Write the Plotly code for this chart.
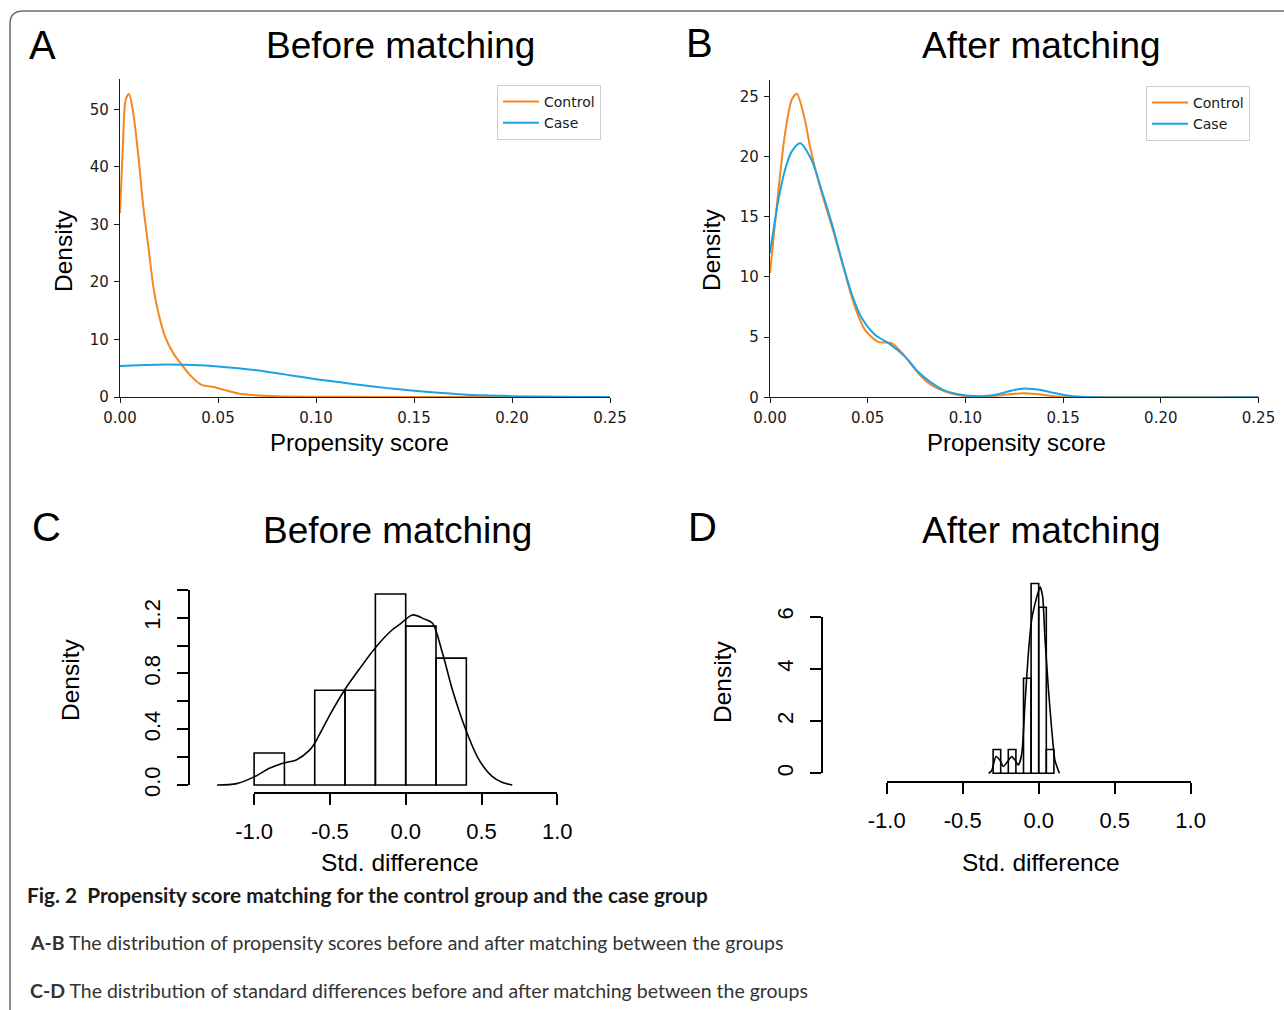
import plotly.graph_objects as go

# ---------------- data ----------------
# Panel A: propensity score densities before matching
a_ctrl_x = [0.0, 0.0015, 0.0029, 0.0046, 0.0068, 0.0094, 0.0119, 0.0145, 0.017, 0.0196, 0.023, 0.0272,
            0.0315, 0.0366, 0.0417, 0.0485, 0.0536, 0.0604, 0.0689, 0.08, 0.10, 0.13, 0.17, 0.25]
a_ctrl_y = [32.0, 44.0, 51.7, 52.7, 49.3, 41.8, 33.1, 26.1, 19.2, 14.6, 10.5, 7.6,
            5.6, 3.5, 2.1, 1.7, 1.2, 0.6, 0.3, 0.12, 0.05, 0.02, 0.01, 0.0]
a_case_x = [0.0, 0.0125, 0.025, 0.0375, 0.05, 0.0625, 0.075, 0.0875, 0.1, 0.1125, 0.125, 0.1375,
            0.15, 0.1625, 0.175, 0.1875, 0.2, 0.225, 0.25]
a_case_y = [5.4, 5.55, 5.65, 5.55, 5.3, 4.9, 4.4, 3.75, 3.1, 2.55, 2.0, 1.5,
            1.1, 0.75, 0.45, 0.28, 0.15, 0.05, 0.01]

# Panel B: propensity score densities after matching
b_ctrl_x = [0.0, 0.0043, 0.0077, 0.0111, 0.0137, 0.0179, 0.0205, 0.0247, 0.029, 0.0333,
            0.0384, 0.0435, 0.0486, 0.0554, 0.0623, 0.069, 0.0759, 0.0827, 0.0896, 0.0964,
            0.103, 0.11, 0.117, 0.124, 0.13, 0.136, 0.142, 0.15, 0.16, 0.25]
b_ctrl_y = [10.3, 17.2, 21.9, 24.7, 25.2, 23.0, 20.8, 18.0, 15.6, 13.3,
            10.3, 7.5, 5.6, 4.6, 4.5, 3.4, 2.0, 1.0, 0.47, 0.19,
            0.05, 0.06, 0.15, 0.28, 0.33, 0.27, 0.15, 0.03, 0.0, 0.0]
b_case_x = [0.0, 0.0043, 0.0077, 0.0111, 0.0154, 0.0213, 0.0264, 0.0316, 0.0367, 0.0418,
            0.0469, 0.0537, 0.0606, 0.069, 0.0759, 0.0827, 0.0896, 0.0964, 0.104, 0.113,
            0.12, 0.126, 0.132, 0.138, 0.145, 0.152, 0.16, 0.166, 0.25]
b_case_y = [12.0, 16.4, 18.9, 20.4, 21.1, 19.7, 17.2, 14.45, 11.4, 8.6,
            6.6, 5.2, 4.5, 3.4, 2.1, 1.2, 0.55, 0.25, 0.1, 0.15,
            0.4, 0.65, 0.72, 0.62, 0.38, 0.15, 0.04, 0.0, 0.0]

# Panel C: standardized differences before matching (histogram + density)
c_bin_left = [-1.0, -0.8, -0.6, -0.4, -0.2, 0.0, 0.2]
c_bin_width = 0.2
c_density = [0.23, 0.0, 0.68, 0.68, 1.37, 1.14, 0.91]
c_kde_x = [-1.244, -1.115, -0.996, -0.899, -0.81, -0.722, -0.634, -0.60, -0.502, -0.404, -0.307, -0.196,
           -0.092, -0.042, 0.045, 0.124, 0.177, 0.243, 0.309, 0.397, 0.484, 0.572, 0.635, 0.703]
c_kde_y = [0.0, 0.01, 0.06, 0.12, 0.156, 0.18, 0.25, 0.30, 0.50, 0.68, 0.83, 0.99,
           1.11, 1.15, 1.22, 1.19, 1.16, 0.945, 0.68, 0.395, 0.18, 0.06, 0.02, 0.0]

# Panel D: standardized differences after matching
d_bin_left = [-0.30, -0.25, -0.20, -0.15, -0.10, -0.05, 0.0, 0.05]
d_bin_width = 0.05
d_density = [0.91, 0.0, 0.91, 0.0, 3.64, 7.27, 6.36, 0.91]
d_kde_x = [-0.33, -0.31, -0.281, -0.255, -0.233, -0.205, -0.178, -0.155, -0.134, -0.112, -0.09,
           -0.068, -0.046, -0.024, 0.0, 0.009, 0.026, 0.041, 0.063, 0.086, 0.107, 0.136]
d_kde_y = [0.0, 0.1, 0.64, 0.5, 0.26, 0.45, 0.64, 0.5, 0.32, 0.72, 2.7,
           4.6, 5.9, 6.5, 7.0, 7.15, 6.77, 5.2, 3.3, 1.66, 0.5, 0.0]

std_ticks = [-1.0, -0.5, 0.0, 0.5, 1.0]
std_ticktext = ["-1.0", "-0.5", "0.0", "0.5", "1.0"]
c_yticks = [0.0, 0.2, 0.4, 0.6, 0.8, 1.0, 1.2, 1.4]
c_yticktext = ["0.0", "", "0.4", "", "0.8", "", "1.2", ""]
d_yticks = [0, 2, 4, 6]

# ---------------- layout helpers ----------------
W, H = 1284, 1010


def fx(p):
    return p / W


def fy(p):
    return 1 - p / H


ORANGE = "#F5871F"
BLUE = "#1CA3E6"
SANS = "Liberation Sans, Arial, Helvetica, sans-serif"
CAPFONT = "Lato, Liberation Sans, sans-serif"

mpl_axis = dict(showline=True, linecolor="#1a1a1a", linewidth=1.3, ticks="outside", ticklen=5,
                tickwidth=1.3, tickcolor="#1a1a1a", showgrid=False, zeroline=False, automargin=False,
                tickfont=dict(family="DejaVu Sans", size=15, color="#1a1a1a"), fixedrange=True,
                ticklabelstandoff=2)
r_axis = dict(showline=True, linecolor="black", linewidth=1.6, ticks="outside", ticklen=11,
              tickwidth=1.6, tickcolor="black", showgrid=False, zeroline=False, automargin=False,
              tickfont=dict(family=SANS, size=22, color="black"), fixedrange=True,
              ticklabelstandoff=8)
hidden = dict(visible=False, fixedrange=True, showgrid=False, zeroline=False, automargin=False)

fig = go.Figure()

# Panel A
fig.add_trace(go.Scatter(x=a_ctrl_x, y=a_ctrl_y, mode="lines", name="Control",
                         line=dict(color=ORANGE, width=2, shape="spline", smoothing=0.8),
                         xaxis="x", yaxis="y", legend="legend"))
fig.add_trace(go.Scatter(x=a_case_x, y=a_case_y, mode="lines", name="Case",
                         line=dict(color=BLUE, width=2, shape="spline", smoothing=0.8),
                         xaxis="x", yaxis="y", legend="legend"))
# Panel B
fig.add_trace(go.Scatter(x=b_ctrl_x, y=b_ctrl_y, mode="lines", name="Control",
                         line=dict(color=ORANGE, width=2, shape="spline", smoothing=0.8),
                         xaxis="x2", yaxis="y2", legend="legend2"))
fig.add_trace(go.Scatter(x=b_case_x, y=b_case_y, mode="lines", name="Case",
                         line=dict(color=BLUE, width=2, shape="spline", smoothing=0.8),
                         xaxis="x2", yaxis="y2", legend="legend2"))

# Panel C
c_centers = [b + c_bin_width / 2 for b in c_bin_left]
fig.add_trace(go.Bar(x=c_centers, y=c_density, width=c_bin_width, base=0,
                     marker=dict(color="rgba(255,255,255,0)", line=dict(color="black", width=1.6)),
                     xaxis="x3", yaxis="y3", showlegend=False))
fig.add_trace(go.Scatter(x=c_kde_x, y=c_kde_y, mode="lines",
                         line=dict(color="black", width=1.6, shape="spline", smoothing=0.8),
                         xaxis="x3", yaxis="y3", showlegend=False))
fig.add_trace(go.Scatter(x=[], y=[], xaxis="x4", yaxis="y4", showlegend=False))

# Panel D
d_centers = [b + d_bin_width / 2 for b in d_bin_left]
fig.add_trace(go.Bar(x=d_centers, y=d_density, width=d_bin_width, base=0,
                     marker=dict(color="rgba(255,255,255,0)", line=dict(color="black", width=1.6)),
                     xaxis="x5", yaxis="y5", showlegend=False))
fig.add_trace(go.Scatter(x=d_kde_x, y=d_kde_y, mode="lines",
                         line=dict(color="black", width=1.6, shape="spline", smoothing=0.6),
                         xaxis="x5", yaxis="y5", showlegend=False))
fig.add_trace(go.Scatter(x=[], y=[], xaxis="x6", yaxis="y6", showlegend=False))

# pixel geometry of panels C and D
c_x0, c_xs = 405.7, 151.6      # px of 0, px per unit
c_y0, c_ys = 785.0, 139.4
d_x0, d_xs = 1038.7, 151.95
d_y0, d_ys = 773.3, 26.1

legend_style = dict(xanchor="left", yanchor="top", bgcolor="white", bordercolor="#cfcfcf",
                    borderwidth=1, font=dict(family="DejaVu Sans", size=14, color="#1a1a1a"),
                    tracegroupgap=0, itemwidth=36)

fig.update_layout(
    width=W, height=H, margin=dict(l=0, r=0, t=0, b=0, autoexpand=False),
    paper_bgcolor="white", plot_bgcolor="rgba(0,0,0,0)", barmode="overlay",
    showlegend=True,
    legend=dict(x=fx(497), y=fy(85), **legend_style),
    legend2=dict(x=fx(1146), y=fy(86), **legend_style),
    xaxis=dict(domain=[fx(120), fx(610)], range=[0, 0.25], dtick=0.05, tickformat=".2f",
               anchor="y", **mpl_axis),
    yaxis=dict(domain=[fy(397), fy(79)], range=[0, 55.3], dtick=10, anchor="x", **mpl_axis),
    xaxis2=dict(domain=[fx(770), fx(1258.5)], range=[0, 0.25], dtick=0.05, tickformat=".2f",
                anchor="y2", **mpl_axis),
    yaxis2=dict(domain=[fy(397.3), fy(80)], range=[0, 26.35], dtick=5, anchor="x2", **mpl_axis),
    # C data axes (hidden)
    xaxis3=dict(domain=[fx(188.6), fx(620)], range=[(188.6 - c_x0) / c_xs, (620 - c_x0) / c_xs],
                anchor="y3", **hidden),
    yaxis3=dict(domain=[fy(792.7), fy(560)], range=[(c_y0 - 792.7) / c_ys, (c_y0 - 560) / c_ys],
                anchor="x3", **hidden),
    # C visible axes
    xaxis4=dict(domain=[fx(c_x0 - c_xs), fx(c_x0 + c_xs)], range=[-1, 1], anchor="free",
                position=fy(792.7), tickvals=std_ticks, ticktext=std_ticktext, **r_axis),
    yaxis4=dict(domain=[fy(c_y0), fy(c_y0 - 1.4 * c_ys)], range=[0, 1.4], anchor="free",
                position=fx(188.6), tickvals=c_yticks, ticktext=c_yticktext, tickangle=-90, **r_axis),
    # D data axes (hidden)
    xaxis5=dict(domain=[fx(821.9), fx(1260)], range=[(821.9 - d_x0) / d_xs, (1260 - d_x0) / d_xs],
                anchor="y5", **hidden),
    yaxis5=dict(domain=[fy(781.7), fy(560)], range=[(d_y0 - 781.7) / d_ys, (d_y0 - 560) / d_ys],
                anchor="x5", **hidden),
    # D visible axes
    xaxis6=dict(domain=[fx(d_x0 - d_xs), fx(d_x0 + d_xs)], range=[-1, 1], anchor="free",
                position=fy(781.7), tickvals=std_ticks, ticktext=std_ticktext, **r_axis),
    yaxis6=dict(domain=[fy(d_y0), fy(d_y0 - 6 * d_ys)], range=[0, 6], anchor="free",
                position=fx(821.9), tickvals=d_yticks, tickangle=-90, **r_axis),
)


def ann(text, x, y, size, family=SANS, angle=0, xanchor="center", color="black"):
    fig.add_annotation(text=text, x=fx(x), y=fy(y), xref="paper", yref="paper",
                       xanchor=xanchor, yanchor="middle", showarrow=False, textangle=angle,
                       font=dict(family=family, size=size, color=color))


# panel letters and titles
ann("A", 43, 45, 40)
ann("Before matching", 400, 45, 37)
ann("B", 700, 43, 40)
ann("After matching", 1041, 45, 37)
ann("C", 47, 527, 40)
ann("Before matching", 397, 530, 37)
ann("D", 702, 527, 40)
ann("After matching", 1041, 530, 37)
# axis titles
ann("Density", 63, 251, 24.5, angle=-90)
ann("Propensity score", 360, 443, 24)
ann("Density", 711, 250, 24.5, angle=-90)
ann("Propensity score", 1016, 443, 24)
ann("Density", 70, 680, 24.5, angle=-90)
ann("Std. difference", 400, 862, 24.5)
ann("Density", 722, 682, 24.5, angle=-90)
ann("Std. difference", 1041, 862, 24.5)
# caption
ann("<b>Fig. 2  Propensity score matching for the control group and the case group</b>",
    25, 894, 20.8, family=CAPFONT, xanchor="left", color="#1a1a1a")
ann("<b>A-B</b> The distribution of propensity scores before and after matching between the groups",
    28, 942, 19.5, family=CAPFONT, xanchor="left", color="#333333")
ann("<b>C-D</b> The distribution of standard differences before and after matching between the groups",
    28, 990, 19.5, family=CAPFONT, xanchor="left", color="#333333")

# rounded frame (top-left corner)
r = 13
frame = (f"M {fx(10)},{fy(1015)} L {fx(10)},{fy(11 + r)} "
         f"Q {fx(10)},{fy(11)} {fx(10 + r)},{fy(11)} L {fx(1290)},{fy(11)}")
fig.add_shape(type="path", path=frame, xref="paper", yref="paper",
              line=dict(color="#6e6e6e", width=1.5))

fig.write_html("out.html", config={"displayModeBar": False},
               post_script="document.body.style.margin='0';")
